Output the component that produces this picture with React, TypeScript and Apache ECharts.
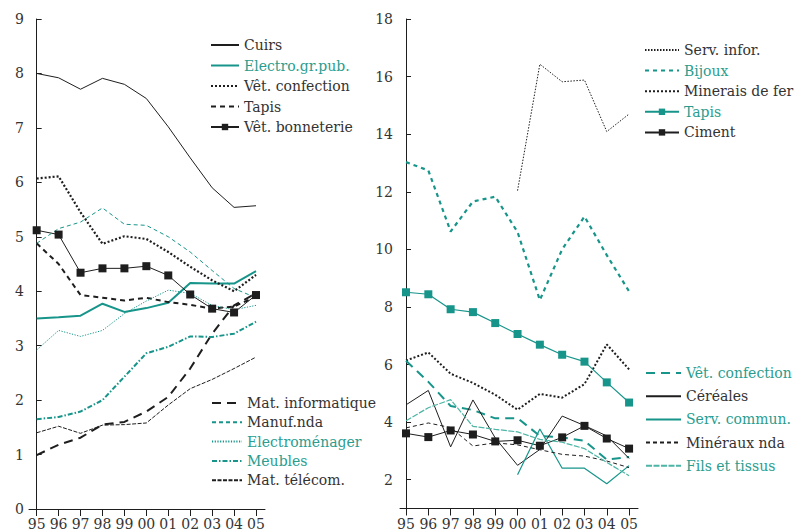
import React, { useEffect, useRef } from 'react';
import * as echarts from 'echarts';

// ---- tick labels / categories ----
const years = ['95', '96', '97', '98', '99', '00', '01', '02', '03', '04', '05'];
const yearIdx = [0, 1, 2, 3, 4, 5, 6, 7, 8, 9, 10];
const leftYTicks = [0, 1, 2, 3, 4, 5, 6, 7, 8, 9];
const rightYTicks = [2, 4, 6, 8, 10, 12, 14, 16, 18];

// ---- left panel series ----
const cuirs = [8.0, 7.92, 7.71, 7.91, 7.8, 7.54, 7.02, 6.45, 5.9, 5.54, 5.57];
const electroGrPub = [3.5, 3.52, 3.55, 3.77, 3.62, 3.69, 3.79, 4.15, 4.14, 4.14, 4.37];
const vetConfectionL = [6.07, 6.11, 5.45, 4.87, 5.01, 4.96, 4.72, 4.45, 4.2, 4.0, 4.3];
const tapisL = [4.88, 4.5, 3.93, 3.88, 3.83, 3.88, 3.8, 3.75, 3.68, 3.72, 3.9];
const vetBonneterie = [5.12, 5.04, 4.34, 4.42, 4.42, 4.46, 4.29, 3.94, 3.68, 3.61, 3.93];
const matInformatique = [0.99, 1.18, 1.31, 1.55, 1.6, 1.79, 2.06, 2.58, 3.22, 3.74, 3.96];
const manufNda = [4.88, 5.15, 5.27, 5.53, 5.23, 5.21, 5.0, 4.72, 4.38, 4.05, 3.88];
const electromenager = [2.92, 3.28, 3.17, 3.28, 3.59, 3.82, 4.02, 3.96, 3.74, 3.66, 3.74];
const meubles = [1.65, 1.69, 1.79, 2.0, 2.43, 2.86, 2.98, 3.17, 3.16, 3.22, 3.44];
const matTelecom = [1.4, 1.52, 1.39, 1.54, 1.55, 1.58, 1.91, 2.21, 2.38, 2.58, 2.79];

// ---- right panel series ----
const servInfor = [null, null, null, null, null, 12.04, 16.43, 15.82, 15.88, 14.09, 14.7];
const bijoux = [13.03, 12.74, 10.62, 11.66, 11.83, 10.6, 8.24, 10.0, 11.14, 9.8, 8.54];
const mineraisFer = [6.14, 6.42, 5.68, 5.36, 4.95, 4.43, 4.98, 4.85, 5.32, 6.7, 5.83];
const tapisR = [8.51, 8.44, 7.92, 7.82, 7.44, 7.06, 6.69, 6.34, 6.1, 5.38, 4.68];
const ciment = [3.61, 3.48, 3.71, 3.57, 3.33, 3.37, 3.18, 3.47, 3.87, 3.43, 3.08];
const vetConfectionR = [6.13, 5.4, 4.56, 4.42, 4.13, 4.14, 3.52, 3.47, 3.35, 2.7, 2.79];
const cereales = [4.6, 5.1, 3.14, 4.77, 3.45, 2.5, 3.05, 4.21, 3.88, 3.52, 2.74];
const servCommun = [null, null, null, null, null, 2.17, 3.76, 2.4, 2.4, 1.86, 2.49];
const minerauxNda = [3.8, 3.97, 3.81, 3.17, 3.28, 3.21, 3.04, 2.88, 2.82, 2.65, 2.42];
const filsTissus = [4.05, 4.5, 4.78, 3.85, 3.75, 3.66, 3.4, 3.3, 3.08, 2.6, 2.14];

const TEAL = '#17958a';
const TEAL_LIGHT = '#4db5a5';
const TEAL_TEXT = '#2a9d8f';
const INK = '#1e1e1e';
const TXT = '#333333';
const FONT = 'DejaVu Serif';
const FS = 14;

function pts(vals: (number | null)[]) {
  return vals
    .map((v, i) => (v == null ? null : [i, v]))
    .filter((p) => p !== null);
}

function line(
  name: string,
  vals: (number | null)[],
  grid: number,
  color: string,
  width: number,
  type: any,
  marker?: boolean
) {
  return {
    type: 'line',
    name,
    xAxisIndex: grid,
    yAxisIndex: grid,
    data: pts(vals),
    symbol: marker ? 'rect' : 'none',
    symbolSize: 8,
    showSymbol: !!marker,
    itemStyle: { color },
    lineStyle: { color, width, type },
    emphasis: { disabled: true },
    silent: true,
  };
}

// [name, teal text, has marker]
function legend(left: number, top: number, gap: number, itemWidth: number, items: [string, boolean, boolean][]) {
  return {
    orient: 'vertical',
    left,
    top,
    padding: 0,
    itemGap: gap,
    itemWidth,
    itemHeight: 8,
    selectedMode: false,
    formatter: (n: string) => n.trim(),
    textStyle: { fontFamily: FONT, fontSize: FS, color: TXT },
    data: items.map(([name, teal, marker]) => ({
      name,
      textStyle: { color: teal ? TEAL_TEXT : TXT, fontFamily: FONT, fontSize: FS },
      itemStyle: marker ? undefined : { opacity: 0 },
    })),
  };
}

function xAxis(grid: number, min: number, max: number) {
  return {
    type: 'value',
    gridIndex: grid,
    min,
    max,
    axisLine: { show: true, lineStyle: { color: INK, width: 1 } },
    axisTick: { show: true, inside: false, length: 7, customValues: yearIdx, lineStyle: { color: INK } },
    axisLabel: {
      customValues: yearIdx,
      formatter: (v: number) => years[Math.round(v)] ?? '',
      margin: 8,
      fontFamily: FONT,
      fontSize: FS,
      color: TXT,
    },
    splitLine: { show: false },
  };
}

export default function App() {
  const ref = useRef<HTMLDivElement>(null);
  useEffect(() => {
    if (!ref.current) return;
    const chart = echarts.init(ref.current, undefined, { renderer: 'svg' });
    chart.setOption({
      animation: false,
      backgroundColor: '#ffffff',
      textStyle: { fontFamily: FONT },
      grid: [
        { left: 29, top: 19, width: 236, height: 490 },
        { left: 400, top: 19, width: 238, height: 489.5 },
      ],
      xAxis: [xAxis(0, -0.35, 10.41), xAxis(1, -0.27, 10.4)],
      yAxis: [
        {
          type: 'value',
          gridIndex: 0,
          min: 0,
          max: 9,
          interval: 1,
          axisLine: { show: true, lineStyle: { color: INK, width: 1 } },
          axisTick: { show: true, inside: true, length: 5, customValues: leftYTicks, lineStyle: { color: INK } },
          axisLabel: { customValues: leftYTicks, margin: 5, fontFamily: FONT, fontSize: FS, color: TXT },
          splitLine: { show: false },
        },
        {
          type: 'value',
          gridIndex: 1,
          min: 1,
          max: 18,
          axisLine: { show: true, lineStyle: { color: INK, width: 1 } },
          axisTick: { show: true, inside: true, length: 5, customValues: rightYTicks, lineStyle: { color: INK } },
          axisLabel: { customValues: rightYTicks, margin: 7, fontFamily: FONT, fontSize: FS, color: TXT },
          splitLine: { show: false },
        },
      ],
      legend: [
        legend(210, 38, 6.5, 28, [
          ['Cuirs', false, false],
          ['Electro.gr.pub.', true, false],
          ['Vêt. confection', false, false],
          ['Tapis', false, false],
          ['Vêt. bonneterie', false, true],
        ]),
        legend(211, 396, 5.3, 30, [
          ['Mat. informatique', false, false],
          ['Manuf.nda', false, false],
          ['Electroménager', true, false],
          ['Meubles', true, false],
          ['Mat. télécom.', false, false],
        ]),
        legend(644, 43, 6.6, 34, [
          ['Serv. infor.', false, false],
          ['Bijoux', true, false],
          ['Minerais de fer', false, false],
          ['Tapis ', true, true],
          ['Ciment', false, true],
        ]),
        legend(645, 366, 9.2, 35, [
          ['Vêt. confection ', true, false],
          ['Céréales', false, false],
          ['Serv. commun.', true, false],
          ['Minéraux nda', false, false],
          ['Fils et tissus', true, false],
        ]),
      ],
      series: [
        line('Cuirs', cuirs, 0, INK, 1, 'solid'),
        line('Electro.gr.pub.', electroGrPub, 0, TEAL, 2, 'solid'),
        line('Vêt. confection', vetConfectionL, 0, INK, 2.2, [2, 2]),
        line('Tapis', tapisL, 0, INK, 2, [5, 4]),
        line('Vêt. bonneterie', vetBonneterie, 0, INK, 1, 'solid', true),
        line('Mat. informatique', matInformatique, 0, INK, 2, [9, 6]),
        line('Manuf.nda', manufNda, 0, TEAL, 1, [4, 3]),
        line('Electroménager', electromenager, 0, TEAL, 1, [1.2, 1.5]),
        line('Meubles', meubles, 0, TEAL, 2, [5, 2, 1.5, 2]),
        line('Mat. télécom.', matTelecom, 0, INK, 1, [4, 1.5]),

        line('Serv. infor.', servInfor, 1, INK, 1, [1.5, 1.5]),
        line('Bijoux', bijoux, 1, TEAL, 2.2, [4, 4]),
        line('Minerais de fer', mineraisFer, 1, INK, 2, [2, 2]),
        line('Tapis ', tapisR, 1, TEAL, 1.2, 'solid', true),
        line('Ciment', ciment, 1, INK, 1, 'solid', true),
        line('Vêt. confection ', vetConfectionR, 1, TEAL, 2, [9, 6]),
        line('Céréales', cereales, 1, INK, 1, 'solid'),
        line('Serv. commun.', servCommun, 1, TEAL, 1.2, 'solid'),
        line('Minéraux nda', minerauxNda, 1, INK, 1, [4, 3]),
        line('Fils et tissus', filsTissus, 1, TEAL_LIGHT, 1.2, [6, 1.5]),
      ],
    });
    return () => chart.dispose();
  }, []);
  return (
    <div
      ref={ref}
      style={{ position: 'fixed', left: 0, top: 0, width: 794, height: 531, background: '#fff' }}
    />
  );
}
